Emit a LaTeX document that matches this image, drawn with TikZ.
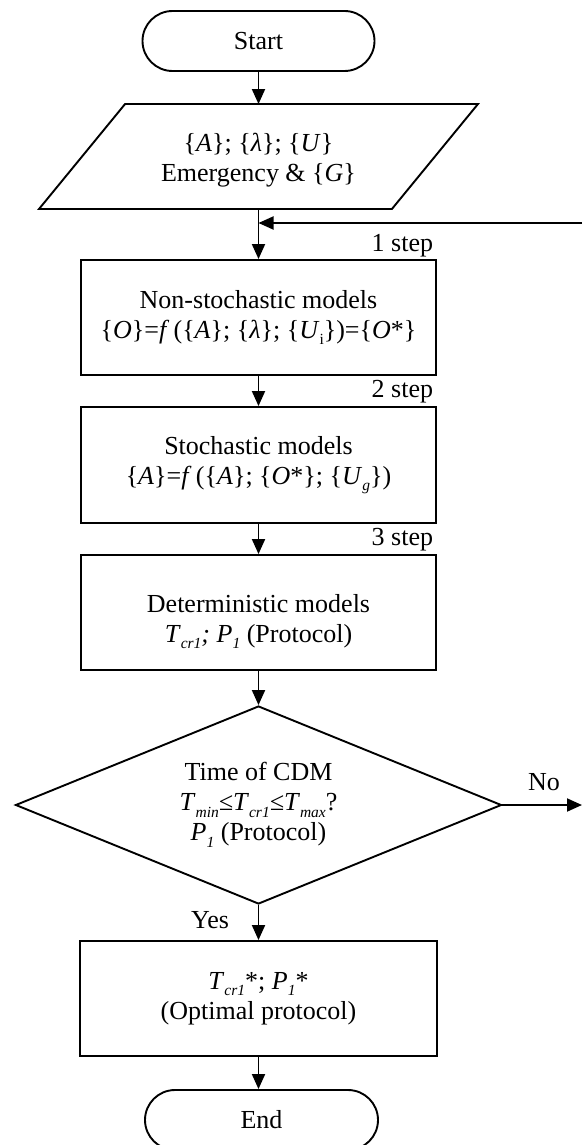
\documentclass[tikz,border=0pt]{standalone}
\usepackage{fontspec}
\setmainfont{Liberation Serif}
\usetikzlibrary{arrows.meta,shapes.misc,shapes.geometric}
% lowered small subscript, italic unless told otherwise
\newcommand\lo[1]{\raisebox{-0.25em}{\fontsize{15.5}{15.5}\selectfont\itshape #1}}
\newcommand\iv[1]{\textit{#1}}
\begin{document}
\begin{tikzpicture}[x=1pt,y=-1pt,line width=1.9pt,
  every node/.style={font=\fontsize{26}{30}\selectfont,align=center,inner sep=0pt},
  term/.style={draw,rounded rectangle,minimum width=232pt,minimum height=60pt},
  stepbox/.style={draw,rectangle,minimum width=355pt,minimum height=115pt},
  arr/.style={-{Triangle[length=15pt,width=13pt]}}]
\clip (0,0) rectangle (582,1145);

% terminals and data input
\node[term] (start) at (258.5,41) {Start};
\node[minimum width=437pt,minimum height=103pt] (input) at (258.5,156.5) {};
\draw ([xshift=86pt]input.north west) -- (input.north east)
   -- ([xshift=-86pt]input.south east) -- (input.south west) -- cycle;
\node[yshift=-4pt] (inputtxt) at (input.center)
  {\{\iv{A}\}; \{\iv{λ}\}; \{\iv{U}\}\\Emergency \& \{\iv{G}\}};

% model steps
\node[stepbox] (box1) at (258.5,317.5)
  {Non-stochastic models\\\{\iv{O}\}=\iv{f}\,(\{\iv{A}\}; \{\iv{λ}\}; \{\iv{U}\lo{\upshape i}\})=\{\iv{O}*\}};
\node[stepbox,minimum height=116pt] (box2) at (258.5,465)
  {Stochastic models\\\{\iv{A}\}=\iv{f}\,(\{\iv{A}\}; \{\iv{O}*\}; \{\iv{U}\lo{g}\})};
\node[stepbox] (box3) at (258.5,612.5) {};
\node[yshift=-9pt] (box3txt) at (box3.center)
  {Deterministic models\\\iv{T}\lo{cr1}\iv{;} \iv{P}\lo{1} (Protocol)};

% decision
\node[draw,diamond,minimum width=486pt,minimum height=198pt] (dec) at (258.5,805) {};
\node (dectxt) at (dec.center)
  {Time of CDM\\\iv{T}\lo{min}\iv{≤}\iv{T}\lo{cr1}\iv{≤}\iv{T}\lo{max}?\\\iv{P}\lo{1} (Protocol)};

\node[stepbox,minimum width=357pt] (box4) at (258.5,998.5)
  {\iv{T}\lo{cr1}*; \iv{P}\lo{1}*\\(Optimal protocol)};
\node[term,minimum width=233pt] (end) at (261.5,1120) {End};

% step and branch labels
\node[anchor=base east] (s1) at (434,251) {1 step};
\node[anchor=base east] (s2) at (434,397) {2 step};
\node[anchor=base east] (s3) at (434,545) {3 step};
\node[anchor=base] (no) at (544,790) {No};
\node[anchor=base] (yes) at (210,928) {Yes};

% connectors
\coordinate (fb) at (582,223);
\coordinate (noend) at (582,805);
\draw[arr] (start.south) -- (start.south |- input.north);
\draw[arr] (box1.north |- input.south) -- (box1.north);
\draw[arr] (fb) -- (fb -| box1.north);
\draw[arr] (box1.south) -- (box2.north);
\draw[arr] (box2.south) -- (box3.north);
\draw[arr] (box3.south) -- (dec.north);
\draw[arr] (dec.east) -- (noend);
\draw[arr] (dec.south) -- (box4.north);
\draw[arr] (box4.south) -- (box4.south |- end.north);
\end{tikzpicture}
\end{document}
